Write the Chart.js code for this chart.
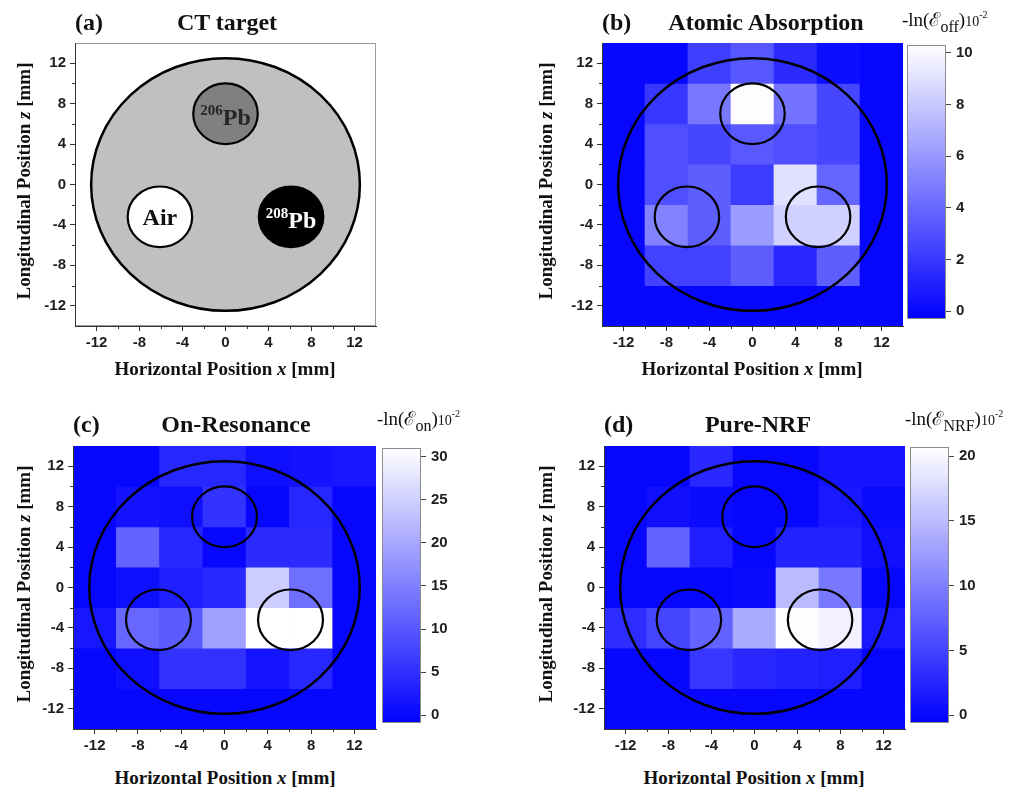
<!DOCTYPE html>
<html>
<head>
<meta charset="utf-8">
<title>NRF computed tomography of a lead-isotope target</title>
<script src="https://cdn.jsdelivr.net/npm/chart.js@4.4.1/dist/chart.umd.min.js"></script>
<style>
  html, body { margin: 0; padding: 0; background: #fff; }
  body { position: relative; width: 1022px; height: 789px; overflow: hidden; }
  canvas { position: absolute; }
  .lbl { position: absolute; white-space: nowrap; font-family: "Liberation Serif", "Times New Roman", serif; color: #111; line-height: 1; z-index: 5; }
  .panel { font-size: 24px; font-weight: bold; }
  .mid { transform: translateX(-50%); }
  .axt { font-size: 19px; font-weight: bold; }
  .rot { position: absolute; width: 0; height: 0; z-index: 5; }
  .rot > span { position: absolute; left: 0; top: 0; transform: translate(-50%, -50%) rotate(-90deg); white-space: nowrap;
                font-family: "Liberation Serif", "Times New Roman", serif; font-weight: bold; font-size: 19px; line-height: 1; color: #111; }
  .cbt { font-size: 19px; }
  .cbt .s { font-size: 16px; position: relative; top: 6px; }
  .cbt .e { font-size: 14px; }
  .cbt .p { font-size: 10px; position: relative; top: -8px; }
</style>
</head>
<body>

<!-- panel headings -->
<div class="lbl panel" style="left:75px; top:10px;">(a)</div>
<div class="lbl panel mid" style="left:227px; top:10px;">CT target</div>
<div class="lbl panel" style="left:602px; top:10px;">(b)</div>
<div class="lbl panel mid" style="left:766px; top:10px;">Atomic Absorption</div>
<div class="lbl panel" style="left:73px; top:412px;">(c)</div>
<div class="lbl panel mid" style="left:236px; top:412px;">On-Resonance</div>
<div class="lbl panel" style="left:604px; top:412px;">(d)</div>
<div class="lbl panel mid" style="left:758px; top:412px;">Pure-NRF</div>

<!-- colour-bar headings -->
<div class="lbl cbt" style="left:902px; top:10px;">-ln(ℰ<span class="s">off</span>)<span class="e">10</span><span class="p">-2</span></div>
<div class="lbl cbt" style="left:377px; top:409px;">-ln(ℰ<span class="s">on</span>)<span class="e">10</span><span class="p">-2</span></div>
<div class="lbl cbt" style="left:905px; top:409px;">-ln(ℰ<span class="s">NRF</span>)<span class="e">10</span><span class="p">-2</span></div>

<!-- axis titles -->
<div class="lbl axt mid" style="left:225px; top:359px;">Horizontal Position <i>x</i> [mm]</div>
<div class="lbl axt mid" style="left:752px; top:359px;">Horizontal Position <i>x</i> [mm]</div>
<div class="lbl axt mid" style="left:225px; top:768px;">Horizontal Position <i>x</i> [mm]</div>
<div class="lbl axt mid" style="left:754px; top:768px;">Horizontal Position <i>x</i> [mm]</div>
<div class="rot" style="left:23px; top:181px;"><span>Longitudinal Position <i>z</i> [mm]</span></div>
<div class="rot" style="left:545px; top:181px;"><span>Longitudinal Position <i>z</i> [mm]</span></div>
<div class="rot" style="left:23px; top:584px;"><span>Longitudinal Position <i>z</i> [mm]</span></div>
<div class="rot" style="left:545px; top:584px;"><span>Longitudinal Position <i>z</i> [mm]</span></div>

<script>
// ---------------------------------------------------------------------------
// Scan grid: 7 x 7 pixels on a 4 mm pitch
// ---------------------------------------------------------------------------
const xCenters = [-12, -8, -4, 0, 4, 8, 12];
const zCenters = [12, 8, 4, 0, -4, -8, -12];
const axisTicks = [-12, -8, -4, 0, 4, 8, 12];
const minorTicks = [-10, -6, -2, 2, 6, 10];

// -ln(transmission) x 10^-2, one row per z (top row z = +12)
const atomicValues = [
  [0, 0,   2.3, 3.3,  1.5, 0.3, 0],
  [0, 2.0, 4.7, 10.2, 4.5, 2.6, 0],
  [0, 3.0, 2.6, 3.4,  3.0, 2.6, 0],
  [0, 3.0, 3.6, 2.2,  9.0, 3.9, 0],
  [0, 5.1, 3.6, 6.2,  8.4, 8.4, 0],
  [0, 2.4, 2.4, 3.6,  1.4, 3.6, 0],
  [0, 0,   0,   0,    0,   0,   0]
];
const onResValues = [
  [0,   0,    4.0,  4.0,  1.0,  1.5,  2.0],
  [0,   1.5,  1.0,  5.5,  0,    4.0,  0],
  [0,   11.5, 4.0,  0,    4.5,  4.5,  0],
  [0,   1.0,  3.0,  4.0,  24.6, 13.0, 0],
  [2.0, 12.0, 10.5, 19.0, 31.0, 31.0, 0],
  [0,   1.0,  5.3,  5.3,  1.6,  4.0,  0],
  [0,   0,    0,    0,    0,    0,    0]
];
const nrfValues = [
  [0,   0,   2.8, 0,    0,    1.1,  1.1],
  [0,   0.7, 0.3, 0,    0,    1.5,  0.3],
  [0,   7.7, 1.9, 0,    2.3,  2.3,  0.7],
  [0,   0,   0,   0.2,  14.9, 9.4,  0],
  [3.2, 5.2, 7.7, 13.6, 20.5, 19.5, 1.5],
  [0,   0,   4.0, 2.7,  2.3,  1.9,  0],
  [0,   0,   0,   0,    0,    0,    0]
];

// colour-bar scales
const atomicTicks = [0, 2, 4, 6, 8, 10];
const onResTicks = [0, 5, 10, 15, 20, 25, 30];
const nrfTicks = [0, 5, 10, 15, 20];
const atomicRange = [-0.3, 10.3];
const onResRange = [-0.9, 31];
const nrfRange = [-0.6, 20.7];

// target geometry (mm)
const phantomRadius = 12.5;
const inclusionRadius = 3;
const inclusionX = [0, -6.1, 6.1];
const inclusionZ = [7, -3.2, -3.2];
const inclusionNames = ['Pb', 'Air', 'Pb'];
const inclusionMasses = ['206', '', '208'];

// ---------------------------------------------------------------------------
// styling and layout
// ---------------------------------------------------------------------------
const CELL = 4;
const TICK_FONT = '"Liberation Sans", Arial, sans-serif';
const SERIF = '"Liberation Serif", "Times New Roman", serif';
const inclusionFill = ['#808080', '#ffffff', '#000000'];
const inclusionInk = ['#262626', '#111111', '#ffffff'];
const phantomFill = '#c0c0c0';

const AX_W = 60, AX_H = 34, PAD_T = 6, PAD_R = 6;
const CB_AX = 50, CB_PAD = 10;

function colorFor(v, range) {
  let t = (v - range[0]) / (range[1] - range[0]);
  t = Math.max(0, Math.min(1, t));
  const c = Math.round(255 * t);
  return `rgb(${c},${c},255)`;
}

function makeCanvas(left, top, w, h) {
  const c = document.createElement('canvas');
  c.width = w; c.height = h;
  c.style.left = left + 'px'; c.style.top = top + 'px';
  c.style.width = w + 'px'; c.style.height = h + 'px';
  document.body.appendChild(c);
  return c;
}
function plotCanvas(rect) {
  const [l, t, r, b] = rect;
  return makeCanvas(l - AX_W, t - PAD_T, (r - l) + AX_W + PAD_R, (b - t) + PAD_T + AX_H);
}
function barCanvas(rect) {
  const [l, t, r, b] = rect;
  return makeCanvas(l, t - CB_PAD, (r - l) + CB_AX, (b - t) + 2 * CB_PAD);
}

function positionScale(axis) {
  return {
    type: 'linear',
    position: axis === 'x' ? 'bottom' : 'left',
    min: -14, max: 14, offset: false,
    afterBuildTicks: s => { s.ticks = axisTicks.map(v => ({ value: v })); },
    afterFit: s => { if (axis === 'x') s.height = AX_H; else s.width = AX_W; },
    grid: { drawOnChartArea: false, drawTicks: true, tickLength: 5, tickWidth: 1, tickColor: '#333', offset: false },
    border: { display: true, color: '#333', width: 1, z: 1 },
    ticks: {
      color: '#1e1e1e', padding: axis === 'x' ? 3 : 4, maxRotation: 0, autoSkip: false,
      font: { family: TICK_FONT, size: 15, weight: 'bold' }
    }
  };
}

function baseOptions() {
  return {
    responsive: false, animation: false, devicePixelRatio: 1, events: [],
    layout: { padding: { left: 0, top: PAD_T, right: PAD_R, bottom: 0 } },
    plugins: { legend: { display: false }, tooltip: { enabled: false }, title: { display: false } },
    scales: { x: positionScale('x'), y: positionScale('y') }
  };
}

function ellipsePath(ctx, xs, ys, cx, cz, r) {
  const px = xs.getPixelForValue(cx), py = ys.getPixelForValue(cz);
  const rx = Math.abs(xs.getPixelForValue(cx + r) - px);
  const ry = Math.abs(ys.getPixelForValue(cz + r) - py);
  ctx.beginPath();
  ctx.ellipse(px, py, rx, ry, 0, 0, Math.PI * 2);
}

// minor tick marks half-way between the labelled ones
function drawMinorTicks(chart) {
  const { ctx, chartArea: a, scales: { x, y } } = chart;
  ctx.save();
  ctx.strokeStyle = '#333'; ctx.lineWidth = 1;
  ctx.beginPath();
  minorTicks.forEach(v => {
    const px = Math.round(x.getPixelForValue(v)) + 0.5;
    ctx.moveTo(px, a.bottom); ctx.lineTo(px, a.bottom + 3);
    const py = Math.round(y.getPixelForValue(v)) + 0.5;
    ctx.moveTo(a.left - 3, py); ctx.lineTo(a.left, py);
  });
  ctx.stroke();
  ctx.restore();
}

// phantom outline: outer disc plus the three inserts
function drawOutlines(chart, filled) {
  const { ctx, scales: { x, y } } = chart;
  ctx.save();
  ellipsePath(ctx, x, y, 0, 0, phantomRadius);
  if (filled) { ctx.fillStyle = phantomFill; ctx.fill(); }
  ctx.strokeStyle = '#000'; ctx.lineWidth = 2.5; ctx.stroke();
  inclusionX.forEach((cx, i) => {
    ellipsePath(ctx, x, y, cx, inclusionZ[i], inclusionRadius);
    if (filled) { ctx.fillStyle = inclusionFill[i]; ctx.fill(); }
    ctx.strokeStyle = '#000'; ctx.lineWidth = 2.2; ctx.stroke();
  });
  ctx.restore();
}

// ---------------------------------------------------------------------------
// (a) CT target
// ---------------------------------------------------------------------------
const targetPlugin = {
  id: 'targetPlugin',
  beforeDatasetsDraw(chart) {
    const { ctx, chartArea: a, scales: { x, y } } = chart;
    ctx.save();
    ctx.strokeStyle = '#9c9c9c'; ctx.lineWidth = 1;
    ctx.strokeRect(a.left + 0.5, a.top + 0.5, a.width - 1, a.height - 1);
    ctx.restore();
    drawOutlines(chart, true);

    ctx.save();
    ctx.textBaseline = 'alphabetic';
    ctx.textAlign = 'left';
    inclusionX.forEach((cx, i) => {
      const px = x.getPixelForValue(cx), py = y.getPixelForValue(inclusionZ[i]);
      const mainFont = `bold 24px ${SERIF}`, supFont = `bold 15px ${SERIF}`;
      ctx.font = supFont; const sw = inclusionMasses[i] ? ctx.measureText(inclusionMasses[i]).width : 0;
      ctx.font = mainFont; const mw = ctx.measureText(inclusionNames[i]).width;
      const start = px - (sw + mw) / 2;
      const base = py + (inclusionMasses[i] ? 11 : 8);
      ctx.fillStyle = inclusionInk[i];
      if (sw) { ctx.font = supFont; ctx.fillText(inclusionMasses[i], start, base - 10); }
      ctx.font = mainFont; ctx.fillText(inclusionNames[i], start + sw, base);
    });
    ctx.restore();
  },
  afterDraw: drawMinorTicks
};

new Chart(plotCanvas([75, 36, 376, 326]), {
  type: 'scatter',
  data: { datasets: [] },
  options: baseOptions(),
  plugins: [targetPlugin]
});

// ---------------------------------------------------------------------------
// (b)-(d) reconstructed maps
// ---------------------------------------------------------------------------
const mapPlugin = {
  id: 'mapPlugin',
  beforeDatasetsDraw(chart, args, opts) {
    const { ctx, chartArea: a } = chart;
    ctx.save();
    ctx.fillStyle = colorFor(opts.range[0], opts.range);
    ctx.fillRect(a.left, a.top, a.width, a.height);
    ctx.restore();
  },
  afterDatasetsDraw(chart) { drawOutlines(chart, false); },
  afterDraw: drawMinorTicks
};

function mapChart(rect, values, range) {
  const options = baseOptions();
  options.plugins.mapPlugin = { range };
  return new Chart(plotCanvas(rect), {
    type: 'bar',
    data: {
      datasets: zCenters.map((z, ri) => ({
        data: xCenters.map(x => ({ x: x, y: [z - CELL / 2, z + CELL / 2] })),
        backgroundColor: values[ri].map(v => colorFor(v, range)),
        borderWidth: 0, grouped: false, barPercentage: 1, categoryPercentage: 1
      }))
    },
    options,
    plugins: [mapPlugin]
  });
}

const colorbarPlugin = {
  id: 'colorbarPlugin',
  beforeDatasetsDraw(chart, args, opts) {
    const { ctx, chartArea: a, scales: { y } } = chart;
    const y0 = y.getPixelForValue(opts.range[0]), y1 = y.getPixelForValue(opts.range[1]);
    const g = ctx.createLinearGradient(0, y0, 0, y1);
    g.addColorStop(0, colorFor(opts.range[0], opts.range));
    g.addColorStop(1, colorFor(opts.range[1], opts.range));
    ctx.save();
    ctx.fillStyle = g;
    ctx.fillRect(a.left, a.top, a.width, a.height);
    ctx.strokeStyle = '#8c8c8c'; ctx.lineWidth = 1;
    ctx.strokeRect(a.left + 0.5, a.top + 0.5, a.width - 1, a.height - 1);
    ctx.restore();
  }
};

function colorbarChart(rect, range, ticks) {
  return new Chart(barCanvas(rect), {
    type: 'bar',
    data: { datasets: [] },
    options: {
      responsive: false, animation: false, devicePixelRatio: 1, events: [],
      layout: { padding: { left: 0, right: 0, top: CB_PAD, bottom: CB_PAD } },
      plugins: { legend: { display: false }, tooltip: { enabled: false }, colorbarPlugin: { range } },
      scales: {
        x: { display: false },
        y: {
          type: 'linear', position: 'right', min: range[0], max: range[1],
          afterBuildTicks: s => { s.ticks = ticks.map(v => ({ value: v })); },
          afterFit: s => { s.width = CB_AX; },
          grid: { drawOnChartArea: false, drawTicks: true, tickLength: 5, tickColor: '#444' },
          border: { display: false },
          ticks: { color: '#1e1e1e', padding: 5, font: { family: TICK_FONT, size: 15, weight: 'bold' } }
        }
      }
    },
    plugins: [colorbarPlugin]
  });
}

mapChart([602, 36, 903, 326], atomicValues, atomicRange);
colorbarChart([907, 41, 946, 323], atomicRange, atomicTicks);

mapChart([73, 439, 376, 729], onResValues, onResRange);
colorbarChart([382, 444, 421, 727], onResRange, onResTicks);

mapChart([604, 439, 905, 729], nrfValues, nrfRange);
colorbarChart([910, 443, 949, 727], nrfRange, nrfTicks);
</script>
</body>
</html>
